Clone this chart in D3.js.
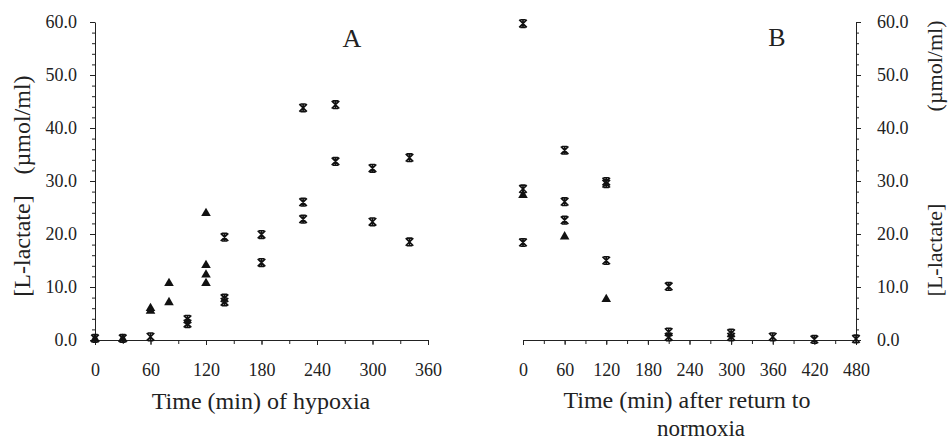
<!DOCTYPE html>
<html>
<head>
<meta charset="utf-8">
<script src="https://cdn.jsdelivr.net/npm/d3@7"></script>
<style>
  body { margin: 0; background: #fff; }
  svg { display: block; }
  text { font-family: "Liberation Serif", "DejaVu Serif", serif; fill: #222; }
  .axis path, .axis line { stroke: #222; stroke-width: 1; }
</style>
</head>
<body>
<svg width="948" height="442"></svg>
<script>
// panel A: time (min) of hypoxia
var hypoxiaTriTime = [0, 30, 60, 60, 80, 80, 120, 120, 120, 120]
var hypoxiaTriValue = [0.2, 0.2, 6.0, 5.5, 10.7, 7.1, 23.9, 14.1, 12.3, 10.7]
var hypoxiaStarTime = [0, 30, 60, 100, 100, 140, 140, 140, 180, 180, 225, 225, 225, 260, 260, 300, 300, 340, 340]
var hypoxiaStarValue = [0.3, 0.3, 0.6, 3.9, 3.1, 19.4, 7.9, 7.2, 19.9, 14.6, 43.8, 26.0, 22.8, 44.4, 33.7, 32.4, 22.3, 34.4, 18.5]

// panel B: time (min) after return to normoxia
var normoxiaTriTime = [0, 60, 120]
var normoxiaTriValue = [27.3, 19.5, 7.7]
var normoxiaStarTime = [0, 0, 0, 60, 60, 60, 120, 120, 120, 210, 210, 210, 300, 300, 360, 420, 480]
var normoxiaStarValue = [59.7, 28.5, 18.4, 35.8, 26.1, 22.6, 29.9, 29.5, 15.0, 10.1, 1.5, 0.6, 1.3, 0.6, 0.6, 0.1, 0.2]

var yTicks = [0, 10, 20, 30, 40, 50, 60]
var xTicksA = [0, 60, 120, 180, 240, 300, 360]
var xTicksB = [0, 60, 120, 180, 240, 300, 360, 420, 480]

var svg = d3.select('svg')

var yScale = d3.scaleLinear().domain([0, 60]).range([340, 22])
var xA = d3.scaleLinear().domain([0, 360]).range([95, 428])
var xB = d3.scaleLinear().domain([0, 480]).range([523, 856])

var zip = (t, v) => t.map((d, i) => ({ t: d, v: v[i] }))

function starPath(s) {
  return `M${-s},${-s}L${s},${s}M${-s},${s}L${s},${-s}M0,${-s}L0,${s}M${-s * 0.7},${-s}L${s * 0.7},${-s}M${-s * 0.7},${s}L${s * 0.7},${s}`
}

// x axes with minor ticks every 30 min
function drawX(scale, ticks, maxT) {
  var minor = d3.range(0, maxT + 1, 30)
  svg.append('g')
    .attr('class', 'axis')
    .attr('transform', 'translate(0,340)')
    .call(d3.axisBottom(scale).tickValues(minor).tickSize(4).tickSizeOuter(0).tickFormat(''))
  var g = svg.append('g')
    .attr('class', 'axis')
    .attr('transform', 'translate(0,340)')
    .call(d3.axisBottom(scale).tickValues(ticks).tickSize(5).tickSizeOuter(0).tickPadding(18))
  g.select('.domain').remove()
  g.selectAll('text')
    .attr('font-size', 18)
    .attr('fill', '#333')
}

// y axes with minor ticks every 2
function drawY(x, left) {
  var minor = d3.range(0, 61, 2)
  var ax = left ? d3.axisLeft : d3.axisRight
  svg.append('g')
    .attr('class', 'axis')
    .attr('transform', `translate(${x},0)`)
    .call(ax(yScale).tickValues(minor).tickSize(3).tickSizeOuter(0).tickFormat(''))
  var g = svg.append('g')
    .attr('class', 'axis')
    .attr('transform', `translate(${x},0)`)
    .call(ax(yScale).tickValues(yTicks).tickSize(5).tickSizeOuter(0).tickPadding(left ? 13 : 16).tickFormat(d3.format('.1f')))
  g.select('.domain').remove()
  g.selectAll('text')
    .attr('font-size', 18)
    .attr('fill', '#333')
}

drawX(xA, xTicksA, 360)
drawX(xB, xTicksB, 480)
drawY(95, true)
drawY(856, false)

function drawPoints(scale, tri, star) {
  svg.append('g').selectAll('path')
    .data(tri)
    .enter()
    .append('path')
    .attr('transform', (d) => `translate(${scale(d.t)},${yScale(d.v)})`)
    .attr('d', d3.symbol().type(d3.symbolTriangle).size(40))
    .attr('fill', '#111')

  svg.append('g').selectAll('path')
    .data(star)
    .enter()
    .append('path')
    .attr('transform', (d) => `translate(${scale(d.t)},${yScale(d.v)})`)
    .attr('d', starPath(3.8))
    .attr('fill', 'none')
    .attr('stroke', '#111')
    .attr('stroke-width', 1.6)
}

drawPoints(xA, zip(hypoxiaTriTime, hypoxiaTriValue), zip(hypoxiaStarTime, hypoxiaStarValue))
drawPoints(xB, zip(normoxiaTriTime, normoxiaTriValue), zip(normoxiaStarTime, normoxiaStarValue))

// panel letters
svg.append('text')
  .attr('x', 352)
  .attr('y', 47)
  .attr('text-anchor', 'middle')
  .attr('font-size', 26)
  .text('A')

svg.append('text')
  .attr('x', 777)
  .attr('y', 46)
  .attr('text-anchor', 'middle')
  .attr('font-size', 26)
  .text('B')

// x titles
svg.append('text')
  .attr('x', 261)
  .attr('y', 409)
  .attr('text-anchor', 'middle')
  .attr('font-size', 24)
  .text('Time (min) of hypoxia')

svg.append('text')
  .attr('x', 687)
  .attr('y', 408)
  .attr('text-anchor', 'middle')
  .attr('font-size', 24)
  .text('Time (min) after return to')

svg.append('text')
  .attr('x', 701)
  .attr('y', 436)
  .attr('text-anchor', 'middle')
  .attr('font-size', 23)
  .text('normoxia')

// y titles
function yTitle(x, yLabel, yUnit, size) {
  svg.append('text')
    .attr('transform', `translate(${x},${yLabel}) rotate(-90)`)
    .attr('text-anchor', 'middle')
    .attr('dominant-baseline', 'central')
    .attr('font-size', size)
    .text('[L-lactate]')
  svg.append('text')
    .attr('transform', `translate(${x},${yUnit}) rotate(-90)`)
    .attr('text-anchor', 'middle')
    .attr('dominant-baseline', 'central')
    .attr('font-size', size)
    .text('(µmol/ml)')
}

yTitle(22, 246, 125, 24)
yTitle(934, 250, 66, 22)
</script>
</body>
</html>
